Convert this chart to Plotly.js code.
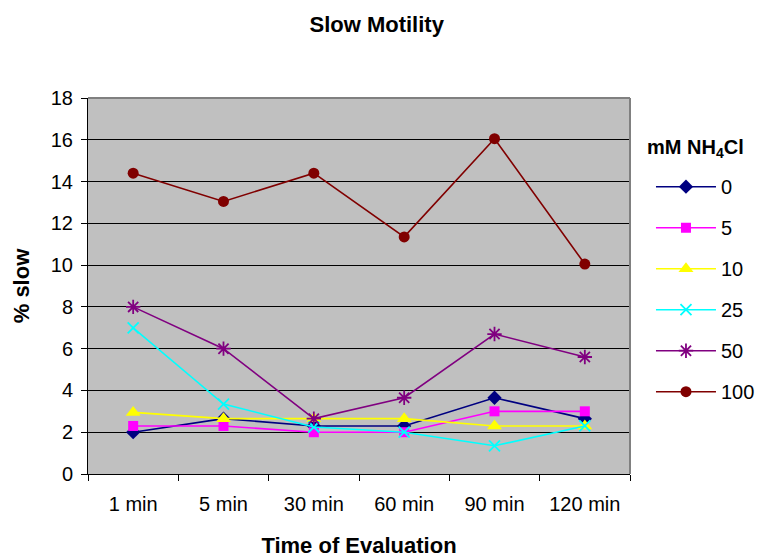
<!DOCTYPE html>
<html>
<head>
<meta charset="utf-8">
<script src="https://cdn.plot.ly/plotly-3.0.1.min.js"></script>
<style>
  html, body { margin: 0; padding: 0; background: #ffffff; }
  #chart { width: 761px; height: 558px; }
</style>
</head>
<body>
<div id="chart"></div>
<script>
// Time points of evaluation (category axis)
const timePoints = ['1 min', '5 min', '30 min', '60 min', '90 min', '120 min'];

// Percentage of slow-motility cells per NH4Cl concentration (mM)
const conc0   = [2.0, 2.65, 2.3, 2.3, 3.65, 2.65];
const conc5   = [2.3, 2.3, 2.0, 2.0, 3.0, 3.0];
const conc10  = [2.95, 2.65, 2.65, 2.65, 2.3, 2.3];
const conc25  = [7.0, 3.35, 2.25, 2.0, 1.35, 2.3];
const conc50  = [8.0, 6.0, 2.65, 3.65, 6.7, 5.6];
const conc100 = [14.4, 13.05, 14.4, 11.35, 16.05, 10.05];

const seriesNames = ['0', '5', '10', '25', '50', '100'];
const yTicks = [0, 2, 4, 6, 8, 10, 12, 14, 16, 18];

const FONT = 'Liberation Sans, Arial, sans-serif';

function series(name, values, color, symbol, size, open) {
  return {
    type: 'scatter',
    mode: 'lines+markers',
    name: name,
    legendgroup: 'g' + name,
    x: timePoints,
    y: values,
    line: { color: color, width: 1.6 },
    marker: open
      ? { symbol: symbol, size: size, color: color, line: { color: color, width: 1.8 } }
      : { symbol: symbol, size: size, color: color, line: { width: 0 } },
    hoverinfo: 'x+y+name'
  };
}

const traces = [
  series(seriesNames[0], conc0,   '#000080', 'diamond',       11, false),
  series(seriesNames[1], conc5,   '#FF00FF', 'square',        10, false),
  series(seriesNames[2], conc10,  '#FFFF00', 'triangle-up',   13, false),
  series(seriesNames[3], conc25,  '#00FFFF', 'x-thin-open',   11, true),
  series(seriesNames[4], conc50,  '#800080', 'asterisk-open', 12, true),
  series(seriesNames[5], conc100, '#800000', 'circle',        11, false)
];

const layout = {
  width: 761,
  height: 558,
  margin: { l: 88, r: 131, t: 98, b: 84, pad: 0, autoexpand: false },
  paper_bgcolor: '#ffffff',
  plot_bgcolor: '#C0C0C0',
  font: { family: FONT, size: 20, color: '#000000' },
  showlegend: true,
  title: {
    text: '<b>Slow Motility</b>',
    font: { family: FONT, size: 22, color: '#000000' },
    x: 0.495, xanchor: 'center',
    y: 0.957, yanchor: 'middle'
  },
  xaxis: {
    type: 'category',
    range: [-0.5, 5.5],
    showgrid: false,
    zeroline: false,
    showline: true,
    linecolor: '#000000',
    linewidth: 1,
    ticks: 'outside',
    tickson: 'boundaries',
    ticklen: 6,
    tickcolor: '#000000',
    tickwidth: 1,
    ticklabelstandoff: 12,
    tickfont: { family: FONT, size: 20, color: '#000000' },
    automargin: false,
    title: {
      text: '<b>Time of Evaluation</b>',
      font: { family: FONT, size: 22, color: '#000000' },
      standoff: 26
    },
    fixedrange: true
  },
  yaxis: {
    range: [0, 18],
    tickvals: yTicks,
    showgrid: true,
    gridcolor: '#000000',
    gridwidth: 1,
    zeroline: false,
    showline: true,
    linecolor: '#000000',
    linewidth: 1,
    ticks: 'outside',
    ticklen: 6,
    tickcolor: '#000000',
    tickwidth: 1,
    ticklabelstandoff: 4,
    tickfont: { family: FONT, size: 20, color: '#000000' },
    automargin: false,
    title: {
      text: '<b>% slow</b>',
      font: { family: FONT, size: 22, color: '#000000' },
      standoff: 15
    },
    fixedrange: true
  },
  legend: {
    font: { family: FONT, size: 20, color: '#000000' },
    x: 1.0387, xanchor: 'left',
    y: 0.816, yanchor: 'top',
    itemwidth: 60,
    bgcolor: 'rgba(0,0,0,0)',
    borderwidth: 0,
    tracegroupgap: 12,
    itemclick: false,
    itemdoubleclick: false
  },
  annotations: [
    // heading above the legend entries
    { xref: 'paper', yref: 'paper', x: 1.0277, y: 0.867,
      xanchor: 'left', yanchor: 'middle', showarrow: false,
      text: '<b>mM NH<sub>4</sub>Cl</b>',
      font: { family: FONT, size: 20, color: '#000000' } }
  ],
  shapes: [
    // grey frame on the top and right edges of the plotting area
    { type: 'line', xref: 'paper', yref: 'paper', x0: 0, x1: 1, y0: 1, y1: 1,
      line: { color: '#808080', width: 2 }, layer: 'above' },
    { type: 'line', xref: 'paper', yref: 'paper', x0: 1, x1: 1, y0: 0, y1: 1,
      line: { color: '#808080', width: 2 }, layer: 'above' }
  ]
};

Plotly.newPlot('chart', traces, layout, { displayModeBar: false, responsive: false });
</script>
</body>
</html>
